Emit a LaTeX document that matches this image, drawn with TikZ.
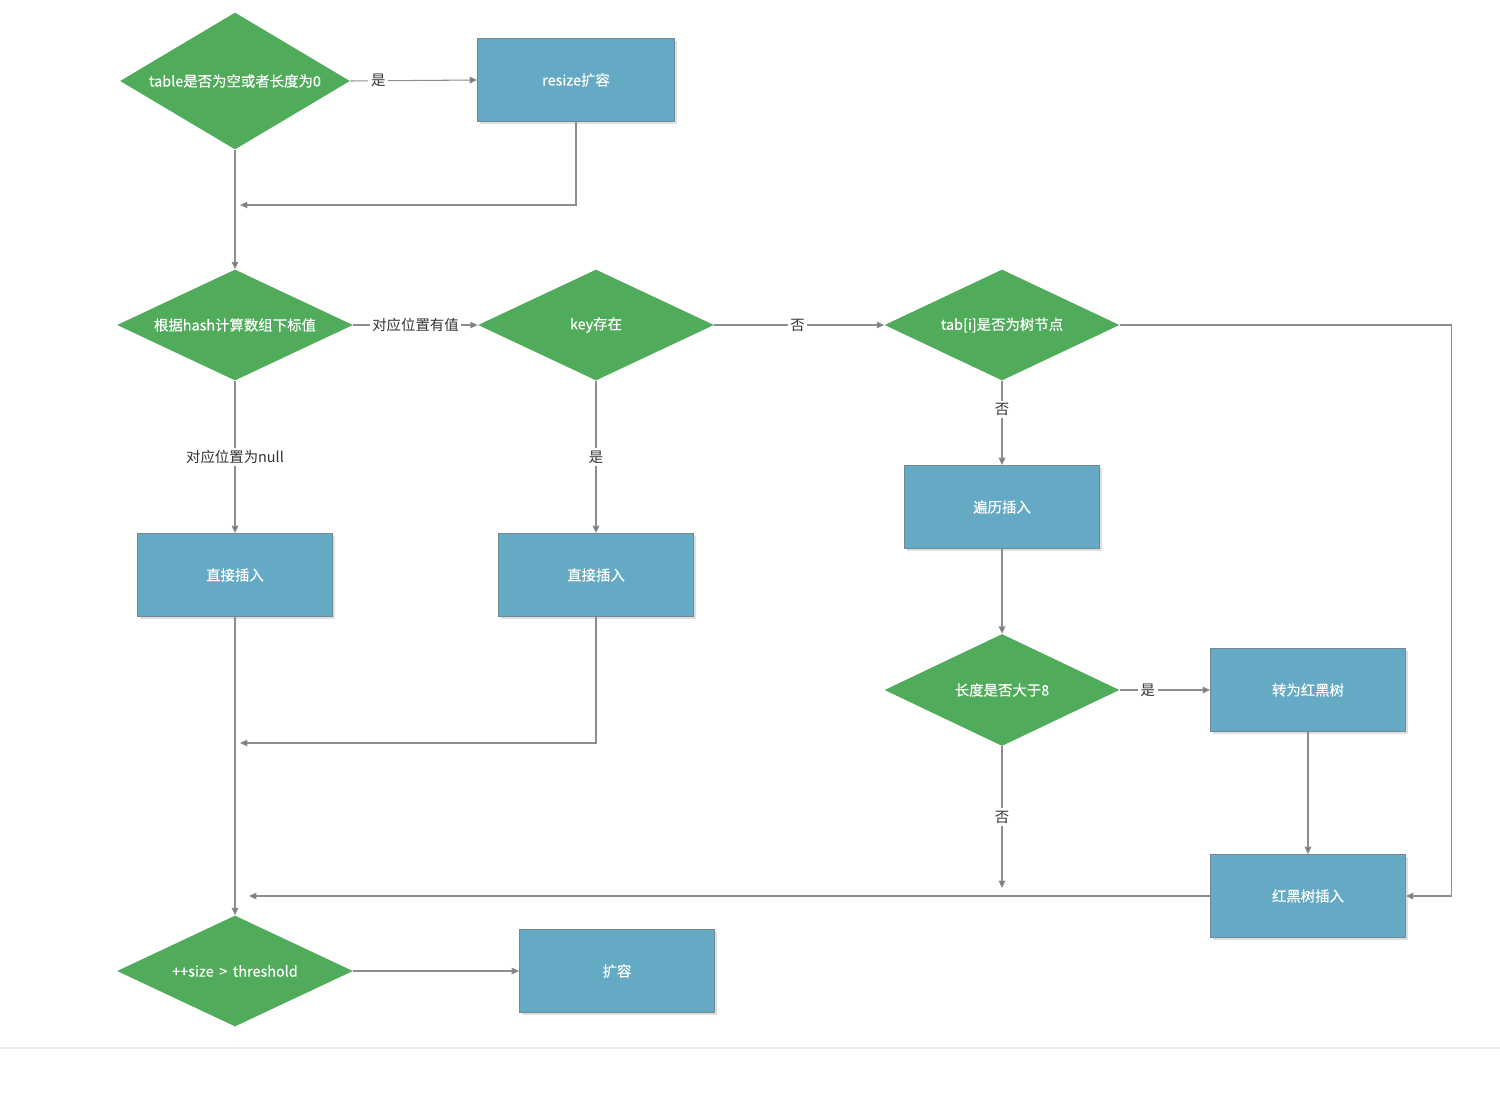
\documentclass[tikz,border=0pt]{standalone}
\usepackage{fontspec}
\newfontfamily\cjk{Noto Sans CJK SC}
\newfontfamily\cjkb[FakeBold=0.45]{Noto Sans CJK SC}
\usetikzlibrary{shapes.geometric,arrows.meta,shadows}
\definecolor{dgreen}{HTML}{50AB5A}
\definecolor{rblue}{HTML}{64AAC4}
\definecolor{rborder}{HTML}{6F8A94}
\definecolor{lgray}{HTML}{8E8E8E}
\definecolor{lbltext}{HTML}{333333}
\begin{document}
\begin{tikzpicture}[x=0.02cm,y=-0.02cm,
  dec/.style={diamond, aspect=2.2, fill=dgreen, draw=none, text=white, inner sep=0pt,
    font=\cjkb\fontsize{8.2}{10}\selectfont, minimum width=4.72cm, minimum height=2.22cm},
  proc/.style={rectangle, fill=rblue, draw=rborder, line width=0.5pt, text=white,
    font=\cjkb\fontsize{8.2}{10}\selectfont, minimum width=3.9cm, minimum height=1.66cm,
    drop shadow={shadow xshift=1.2pt, shadow yshift=-1.2pt, opacity=0.25}},
  arr/.style={draw=lgray, line width=0.6pt, -{Triangle[length=4.2pt,width=3.8pt,fill=lgray!85!black]}},
  lbl/.style={fill=white, text=lbltext, inner sep=1.5pt, font=\cjk\fontsize{8.2}{10}\selectfont}]
\useasboundingbox (0,0) rectangle (1500,1092);
\draw[draw=black!8, line width=0.8pt] (0,1048) -- (1500,1048);

% nodes
\node[dec, minimum width=4.6cm, minimum height=2.74cm] (d1) at (235,81) {table是否为空或者长度为0};
\node[proc, minimum width=3.94cm] (r1) at (576,80) {resize扩容};
\node[dec] (d2) at (235,325) {根据hash计算数组下标值};
\node[dec] (d3) at (596,325) {key存在};
\node[dec, minimum width=4.7cm] (d4) at (1002,325) {tab[i]是否为树节点};
\node[proc] (r4) at (1002,507) {遍历插入};
\node[dec, minimum width=4.7cm, minimum height=2.24cm] (d5) at (1002,690) {长度是否大于8};
\node[proc] (r5) at (1308,690) {转为红黑树};
\node[proc] (r7) at (1308,896) {红黑树插入};
\node[proc] (r2) at (235,575) {直接插入};
\node[proc] (r3) at (596,575) {直接插入};
\node[dec] (d6) at (235,971) {++size \,>\, threshold};
\node[proc] (r6) at (617,971) {扩容};

\coordinate (c1) at (240,205);
\coordinate (c2) at (240,743);
\coordinate (c3) at (1002,888);
\coordinate (c4) at (249,896);

% connectors
\draw[arr] (d1.east) -- node[lbl, pos=0.22] {是} (r1.west);
\draw[arr] (r1.south) |- (c1);
\draw[arr] (d1.south) -- (d2.north);
\draw[arr] (d2.east) -- node[lbl, pos=0.5] {对应位置有值} (d3.west);
\draw[arr] (d3.east) -- node[lbl, pos=0.49] {否} (d4.west);
\draw[arr] (d4.east) -- ++(332,0) |- (r7.east);
\draw[arr] (d4.south) -- node[lbl, pos=0.34] {否} (r4.north);
\draw[arr] (r4.south) -- (d5.north);
\draw[arr] (d5.east) -- node[lbl, pos=0.31] {是} (r5.west);
\draw[arr] (d5.south) -- node[lbl, pos=0.5] {否} (c3);
\draw[arr] (r5.south) -- (r7.north);
\draw[arr] (r7.west) -- (c4);
\draw[arr] (d2.south) -- node[lbl, pos=0.5] {对应位置为null} (r2.north);
\draw[arr] (d3.south) -- node[lbl, pos=0.5] {是} (r3.north);
\draw[arr] (r3.south) |- (c2);
\draw[arr] (r2.south) -- (d6.north);
\draw[arr] (d6.east) -- (r6.west);
\end{tikzpicture}
\end{document}
